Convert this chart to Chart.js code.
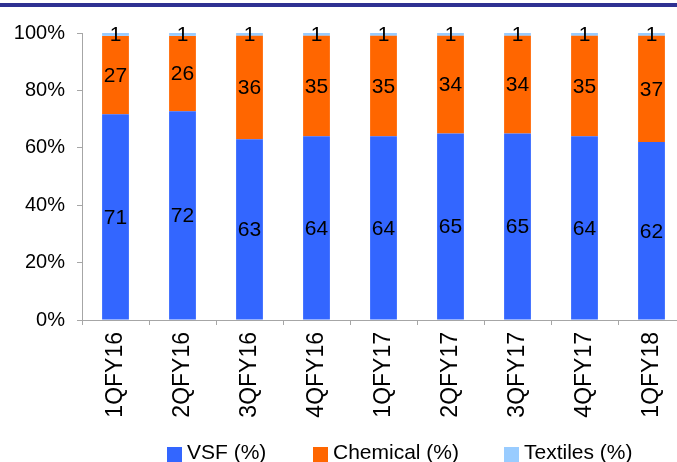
<!DOCTYPE html>
<html>
<head>
<meta charset="utf-8">
<script src="https://cdn.jsdelivr.net/npm/chart.js@4.4.1/dist/chart.umd.min.js"></script>
<style>
  html, body { margin: 0; padding: 0; background: #fff; overflow: hidden; width: 677px; height: 462px; }
  #wrap { position: relative; width: 690px; height: 462px; }
  #band { position: absolute; left: 0; top: 3px; width: 677px; height: 4px; background: #2e3192; }
  #legend { position: absolute; top: 440px; left: 0; font: 21px "Liberation Sans", Arial, sans-serif; color: #000; }
  #legend span.item { position: absolute; white-space: nowrap; }
  #legend i { position: absolute; top: 7px; width: 15px; height: 15px; }
</style>
</head>
<body>
<div id="wrap">
  <div id="band"></div>
  <canvas id="c" width="690" height="462"></canvas>
  <div id="legend"></div>
</div>
<script>
// доли сегментов по кварталам, %
const quarters = ["1QFY16", "2QFY16", "3QFY16", "4QFY16", "1QFY17", "2QFY17", "3QFY17", "4QFY17", "1QFY18"];
const vsf = [71, 72, 63, 64, 64, 65, 65, 64, 62];
const chemical = [27, 26, 36, 35, 35, 34, 34, 35, 37];
const textiles = [1, 1, 1, 1, 1, 1, 1, 1, 1];
const yTicks = [0, 20, 40, 60, 80, 100];

const FONT = "'Liberation Sans', Arial, sans-serif";

// нормируем к 100%, как в 100%-гистограмме
const totals = quarters.map((q, i) => vsf[i] + chemical[i] + textiles[i]);
const share = arr => arr.map((v, i) => v / totals[i] * 100);

const series = [
  { label: "VSF (%)", raw: vsf, color: "#3366ff" },
  { label: "Chemical (%)", raw: chemical, color: "#ff6600" },
  { label: "Textiles (%)", raw: textiles, color: "#99ccff" }
];

const valueLabels = {
  id: "valueLabels",
  afterDatasetsDraw(chart) {
    const ctx = chart.ctx;
    ctx.save();
    ctx.font = "21px " + FONT;
    ctx.fillStyle = "#000";
    ctx.textAlign = "center";
    ctx.textBaseline = "middle";
    chart.data.datasets.forEach((ds, di) => {
      chart.getDatasetMeta(di).data.forEach((bar, i) => {
        ctx.fillText(String(ds.raw[i]), bar.x, (bar.y + bar.base) / 2 + 1);
      });
    });
    ctx.restore();
  }
};

const axisColor = "#a6a6a6";

new Chart(document.getElementById("c"), {
  type: "bar",
  data: {
    labels: quarters,
    datasets: series.map(s => ({
      label: s.label,
      raw: s.raw,
      data: share(s.raw),
      backgroundColor: s.color,
      borderWidth: 0,
      barPercentage: 0.4,
      categoryPercentage: 1
    }))
  },
  options: {
    responsive: false,
    animation: false,
    layout: { padding: { top: 33, right: 5, left: 0, bottom: 0 } },
    plugins: {
      legend: { display: false },
      tooltip: { enabled: false }
    },
    scales: {
      x: {
        stacked: true,
        grid: { drawOnChartArea: false, color: axisColor, tickLength: 5, offset: true },
        border: { color: axisColor },
        ticks: {
          color: "#000",
          font: { family: FONT, size: 23 },
          minRotation: 90,
          maxRotation: 90,
          autoSkip: false,
          padding: 7
        },
        afterFit(scale) { scale.height = 142; }
      },
      y: {
        stacked: true,
        min: 0,
        max: 100,
        afterBuildTicks(scale) { scale.ticks = yTicks.map(v => ({ value: v })); },
        grid: { drawOnChartArea: false, color: axisColor, tickLength: 5 },
        border: { color: axisColor },
        ticks: {
          color: "#000",
          font: { family: FONT, size: 20 },
          padding: 12,
          callback: v => v + "%"
        },
        afterFit(scale) { scale.width = 82; }
      }
    }
  },
  plugins: [valueLabels]
});

// легенда внизу
const legendPos = [167, 313, 504];
const legend = document.getElementById("legend");
series.forEach((s, i) => {
  const item = document.createElement("span");
  item.className = "item";
  item.style.left = legendPos[i] + "px";
  item.innerHTML = '<i style="background:' + s.color + '"></i><span style="margin-left:20px">' + s.label + "</span>";
  legend.appendChild(item);
});
</script>
</body>
</html>
